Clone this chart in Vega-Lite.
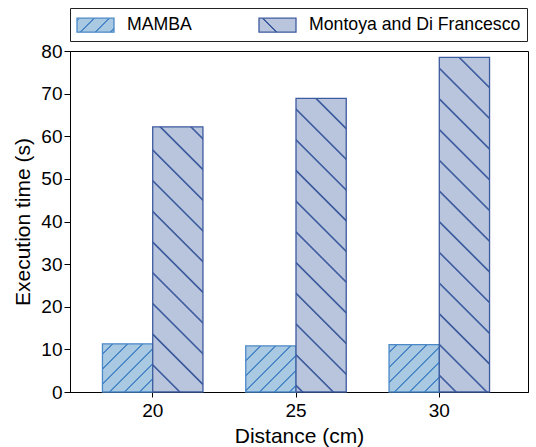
{
  "$schema": "https://vega.github.io/schema/vega-lite/v6.json",
  "width": 458,
  "height": 341,
  "autosize": {"type": "none"},
  "padding": {"left": 70, "top": 51, "right": 8, "bottom": 55},
  "background": "white",
  "config": {
    "font": "Liberation Sans",
    "view": {"stroke": "black", "strokeWidth": 1},
    "axis": {
      "domainColor": "black", "tickColor": "black", "labelColor": "black", "titleColor": "black",
      "labelFont": "Liberation Sans", "titleFont": "Liberation Sans",
      "labelFontSize": 19, "titleFontSize": 21, "titleFontWeight": "normal",
      "grid": false, "tickSize": 5, "domainWidth": 1, "tickWidth": 1
    },
    "legend": {
      "orient": "none", "legendX": 0, "legendY": -43, "direction": "horizontal",
      "symbolType": "M-1,-0.7H2.7V0.7H-1Z", "symbolSize": 400, "symbolStrokeWidth": 1.3,
      "labelFontSize": 17.7, "labelFont": "Liberation Sans", "labelColor": "black", "labelLimit": 400,
      "labelOffset": 29, "columnPadding": 64, "padding": 6,
      "strokeColor": "#222222", "fillColor": "white", "cornerRadius": 0
    }
  },
  "data": {
    "values": [
      {"distance": 20, "series": "MAMBA", "time": 11.3},
      {"distance": 25, "series": "MAMBA", "time": 10.8},
      {"distance": 30, "series": "MAMBA", "time": 11.1},
      {"distance": 20, "series": "Montoya and Di Francesco", "time": 62.2},
      {"distance": 25, "series": "Montoya and Di Francesco", "time": 68.9},
      {"distance": 30, "series": "Montoya and Di Francesco", "time": 78.5}
    ]
  },
  "mark": {"type": "bar", "strokeWidth": 1.3},
  "encoding": {
    "x": {
      "field": "distance", "type": "ordinal", "title": "Distance (cm)",
      "scale": {"paddingInner": 0.29867, "paddingOuter": 0.24738, "align": 0.4577, "round": false},
      "axis": {"labelAngle": 0, "labelPadding": 4, "titlePadding": 5, "tickSize": 5}
    },
    "xOffset": {
      "field": "series", "type": "nominal",
      "scale": {"paddingInner": 0, "paddingOuter": 0}
    },
    "y": {
      "field": "time", "type": "quantitative", "title": "Execution time (s)",
      "scale": {"domain": [0, 80], "nice": false},
      "axis": {"values": [0, 10, 20, 30, 40, 50, 60, 70, 80], "tickSize": 6, "labelPadding": 2, "titlePadding": 7}
    },
    "stroke": {
      "field": "series", "type": "nominal", "title": null,
      "scale": {"domain": ["MAMBA", "Montoya and Di Francesco"], "range": ["#4a88c8", "#3d5b9f"]}
    },
    "fill": {
      "field": "series", "type": "nominal", "title": null,
      "scale": {"domain": ["MAMBA", "Montoya and Di Francesco"], "range": [
        {"expr": "{gradient: 'linear', x1: 0, y1: 0, x2: 1.2057, y2: 0.4562, stops: [{offset: 0, color: '#a9c9e3'}, {offset: 0.0354, color: '#a9c9e3'}, {offset: 0.0354, color: '#4a88c8'}, {offset: 0.0706, color: '#4a88c8'}, {offset: 0.0706, color: '#a9c9e3'}, {offset: 0.3294, color: '#a9c9e3'}, {offset: 0.3294, color: '#4a88c8'}, {offset: 0.3646, color: '#4a88c8'}, {offset: 0.3646, color: '#a9c9e3'}, {offset: 0.6234, color: '#a9c9e3'}, {offset: 0.6234, color: '#4a88c8'}, {offset: 0.6586, color: '#4a88c8'}, {offset: 0.6586, color: '#a9c9e3'}, {offset: 0.9174, color: '#a9c9e3'}, {offset: 0.9174, color: '#4a88c8'}, {offset: 0.9526, color: '#4a88c8'}, {offset: 0.9526, color: '#a9c9e3'}, {offset: 1, color: '#a9c9e3'}]}"},
        {"expr": "{gradient: 'linear', x1: 0, y1: 1, x2: 1.2057, y2: 0.5438, stops: [{offset: 0, color: '#b9c4dd'}, {offset: 0.3254, color: '#b9c4dd'}, {offset: 0.3254, color: '#3d5b9f'}, {offset: 0.3606, color: '#3d5b9f'}, {offset: 0.3606, color: '#b9c4dd'}, {offset: 1, color: '#b9c4dd'}]}"}
      ]},
      "condition": [
        {"test": "datum.distance === 20 && datum.series === 'MAMBA'", "value": {"gradient": "linear", "x1": 0, "y1": 0, "x2": 1.0207, "y2": 0.9784, "stops": [
          {"offset": 0, "color": "#a9c9e3"},
          {"offset": 0.0968, "color": "#a9c9e3"}, {"offset": 0.0968, "color": "#4a88c8"}, {"offset": 0.115, "color": "#4a88c8"}, {"offset": 0.115, "color": "#a9c9e3"},
          {"offset": 0.2492, "color": "#a9c9e3"}, {"offset": 0.2492, "color": "#4a88c8"}, {"offset": 0.2674, "color": "#4a88c8"}, {"offset": 0.2674, "color": "#a9c9e3"},
          {"offset": 0.4016, "color": "#a9c9e3"}, {"offset": 0.4016, "color": "#4a88c8"}, {"offset": 0.4198, "color": "#4a88c8"}, {"offset": 0.4198, "color": "#a9c9e3"},
          {"offset": 0.554, "color": "#a9c9e3"}, {"offset": 0.554, "color": "#4a88c8"}, {"offset": 0.5722, "color": "#4a88c8"}, {"offset": 0.5722, "color": "#a9c9e3"},
          {"offset": 0.7064, "color": "#a9c9e3"}, {"offset": 0.7064, "color": "#4a88c8"}, {"offset": 0.7246, "color": "#4a88c8"}, {"offset": 0.7246, "color": "#a9c9e3"},
          {"offset": 0.8588, "color": "#a9c9e3"}, {"offset": 0.8588, "color": "#4a88c8"}, {"offset": 0.877, "color": "#4a88c8"}, {"offset": 0.877, "color": "#a9c9e3"},
          {"offset": 1, "color": "#a9c9e3"}
        ]}},
        {"test": "datum.distance === 25 && datum.series === 'MAMBA'", "value": {"gradient": "linear", "x1": 0, "y1": 0, "x2": 1.0418, "y2": 0.9543, "stops": [
          {"offset": 0, "color": "#a9c9e3"},
          {"offset": 0.1463, "color": "#a9c9e3"}, {"offset": 0.1463, "color": "#4a88c8"}, {"offset": 0.1649, "color": "#4a88c8"}, {"offset": 0.1649, "color": "#a9c9e3"},
          {"offset": 0.3021, "color": "#a9c9e3"}, {"offset": 0.3021, "color": "#4a88c8"}, {"offset": 0.3207, "color": "#4a88c8"}, {"offset": 0.3207, "color": "#a9c9e3"},
          {"offset": 0.4579, "color": "#a9c9e3"}, {"offset": 0.4579, "color": "#4a88c8"}, {"offset": 0.4765, "color": "#4a88c8"}, {"offset": 0.4765, "color": "#a9c9e3"},
          {"offset": 0.6137, "color": "#a9c9e3"}, {"offset": 0.6137, "color": "#4a88c8"}, {"offset": 0.6323, "color": "#4a88c8"}, {"offset": 0.6323, "color": "#a9c9e3"},
          {"offset": 0.7695, "color": "#a9c9e3"}, {"offset": 0.7695, "color": "#4a88c8"}, {"offset": 0.7881, "color": "#4a88c8"}, {"offset": 0.7881, "color": "#a9c9e3"},
          {"offset": 0.9253, "color": "#a9c9e3"}, {"offset": 0.9253, "color": "#4a88c8"}, {"offset": 0.9439, "color": "#4a88c8"}, {"offset": 0.9439, "color": "#a9c9e3"},
          {"offset": 1, "color": "#a9c9e3"}
        ]}},
        {"test": "datum.distance === 30 && datum.series === 'MAMBA'", "value": {"gradient": "linear", "x1": 0, "y1": 0, "x2": 1.0292, "y2": 0.969, "stops": [
          {"offset": 0, "color": "#a9c9e3"},
          {"offset": 0.0724, "color": "#a9c9e3"}, {"offset": 0.0724, "color": "#4a88c8"}, {"offset": 0.0908, "color": "#4a88c8"}, {"offset": 0.0908, "color": "#a9c9e3"},
          {"offset": 0.2261, "color": "#a9c9e3"}, {"offset": 0.2261, "color": "#4a88c8"}, {"offset": 0.2445, "color": "#4a88c8"}, {"offset": 0.2445, "color": "#a9c9e3"},
          {"offset": 0.3799, "color": "#a9c9e3"}, {"offset": 0.3799, "color": "#4a88c8"}, {"offset": 0.3983, "color": "#4a88c8"}, {"offset": 0.3983, "color": "#a9c9e3"},
          {"offset": 0.5336, "color": "#a9c9e3"}, {"offset": 0.5336, "color": "#4a88c8"}, {"offset": 0.552, "color": "#4a88c8"}, {"offset": 0.552, "color": "#a9c9e3"},
          {"offset": 0.6874, "color": "#a9c9e3"}, {"offset": 0.6874, "color": "#4a88c8"}, {"offset": 0.7058, "color": "#4a88c8"}, {"offset": 0.7058, "color": "#a9c9e3"},
          {"offset": 0.8411, "color": "#a9c9e3"}, {"offset": 0.8411, "color": "#4a88c8"}, {"offset": 0.8595, "color": "#4a88c8"}, {"offset": 0.8595, "color": "#a9c9e3"},
          {"offset": 1, "color": "#a9c9e3"}
        ]}},
        {"test": "datum.distance === 20 && datum.series !== 'MAMBA'", "value": {"gradient": "linear", "x1": 0, "y1": 1, "x2": 0.21763, "y2": -0.14828, "stops": [
          {"offset": 0, "color": "#b9c4dd"},
          {"offset": 0.0802, "color": "#b9c4dd"}, {"offset": 0.0843, "color": "#3d5b9f"}, {"offset": 0.0875, "color": "#3d5b9f"}, {"offset": 0.0916, "color": "#b9c4dd"},
          {"offset": 0.1776, "color": "#b9c4dd"}, {"offset": 0.1817, "color": "#3d5b9f"}, {"offset": 0.1849, "color": "#3d5b9f"}, {"offset": 0.189, "color": "#b9c4dd"},
          {"offset": 0.2749, "color": "#b9c4dd"}, {"offset": 0.279, "color": "#3d5b9f"}, {"offset": 0.2822, "color": "#3d5b9f"}, {"offset": 0.2863, "color": "#b9c4dd"},
          {"offset": 0.3723, "color": "#b9c4dd"}, {"offset": 0.3764, "color": "#3d5b9f"}, {"offset": 0.3796, "color": "#3d5b9f"}, {"offset": 0.3837, "color": "#b9c4dd"},
          {"offset": 0.4696, "color": "#b9c4dd"}, {"offset": 0.4737, "color": "#3d5b9f"}, {"offset": 0.4769, "color": "#3d5b9f"}, {"offset": 0.481, "color": "#b9c4dd"},
          {"offset": 0.5669, "color": "#b9c4dd"}, {"offset": 0.571, "color": "#3d5b9f"}, {"offset": 0.5742, "color": "#3d5b9f"}, {"offset": 0.5783, "color": "#b9c4dd"},
          {"offset": 0.6643, "color": "#b9c4dd"}, {"offset": 0.6684, "color": "#3d5b9f"}, {"offset": 0.6716, "color": "#3d5b9f"}, {"offset": 0.6757, "color": "#b9c4dd"},
          {"offset": 0.7616, "color": "#b9c4dd"}, {"offset": 0.7657, "color": "#3d5b9f"}, {"offset": 0.7689, "color": "#3d5b9f"}, {"offset": 0.773, "color": "#b9c4dd"},
          {"offset": 0.859, "color": "#b9c4dd"}, {"offset": 0.8631, "color": "#3d5b9f"}, {"offset": 0.8663, "color": "#3d5b9f"}, {"offset": 0.8704, "color": "#b9c4dd"},
          {"offset": 0.9563, "color": "#b9c4dd"}, {"offset": 0.9604, "color": "#3d5b9f"}, {"offset": 0.9636, "color": "#3d5b9f"}, {"offset": 0.9677, "color": "#b9c4dd"},
          {"offset": 1, "color": "#b9c4dd"}
        ]}},
        {"test": "datum.distance === 25 && datum.series !== 'MAMBA'", "value": {"gradient": "linear", "x1": 0, "y1": 1, "x2": 0.19467, "y2": -0.13777, "stops": [
          {"offset": 0, "color": "#b9c4dd"},
          {"offset": 0.014, "color": "#b9c4dd"}, {"offset": 0.0177, "color": "#3d5b9f"}, {"offset": 0.0207, "color": "#3d5b9f"}, {"offset": 0.0244, "color": "#b9c4dd"},
          {"offset": 0.1032, "color": "#b9c4dd"}, {"offset": 0.1069, "color": "#3d5b9f"}, {"offset": 0.1099, "color": "#3d5b9f"}, {"offset": 0.1136, "color": "#b9c4dd"},
          {"offset": 0.1925, "color": "#b9c4dd"}, {"offset": 0.1962, "color": "#3d5b9f"}, {"offset": 0.1992, "color": "#3d5b9f"}, {"offset": 0.2029, "color": "#b9c4dd"},
          {"offset": 0.2818, "color": "#b9c4dd"}, {"offset": 0.2855, "color": "#3d5b9f"}, {"offset": 0.2885, "color": "#3d5b9f"}, {"offset": 0.2922, "color": "#b9c4dd"},
          {"offset": 0.371, "color": "#b9c4dd"}, {"offset": 0.3747, "color": "#3d5b9f"}, {"offset": 0.3777, "color": "#3d5b9f"}, {"offset": 0.3814, "color": "#b9c4dd"},
          {"offset": 0.4603, "color": "#b9c4dd"}, {"offset": 0.464, "color": "#3d5b9f"}, {"offset": 0.467, "color": "#3d5b9f"}, {"offset": 0.4707, "color": "#b9c4dd"},
          {"offset": 0.5495, "color": "#b9c4dd"}, {"offset": 0.5532, "color": "#3d5b9f"}, {"offset": 0.5562, "color": "#3d5b9f"}, {"offset": 0.5599, "color": "#b9c4dd"},
          {"offset": 0.6388, "color": "#b9c4dd"}, {"offset": 0.6425, "color": "#3d5b9f"}, {"offset": 0.6455, "color": "#3d5b9f"}, {"offset": 0.6492, "color": "#b9c4dd"},
          {"offset": 0.7281, "color": "#b9c4dd"}, {"offset": 0.7318, "color": "#3d5b9f"}, {"offset": 0.7348, "color": "#3d5b9f"}, {"offset": 0.7385, "color": "#b9c4dd"},
          {"offset": 0.8173, "color": "#b9c4dd"}, {"offset": 0.821, "color": "#3d5b9f"}, {"offset": 0.824, "color": "#3d5b9f"}, {"offset": 0.8277, "color": "#b9c4dd"},
          {"offset": 0.9066, "color": "#b9c4dd"}, {"offset": 0.9103, "color": "#3d5b9f"}, {"offset": 0.9133, "color": "#3d5b9f"}, {"offset": 0.917, "color": "#b9c4dd"},
          {"offset": 1, "color": "#b9c4dd"}
        ]}},
        {"test": "datum.distance === 30 && datum.series !== 'MAMBA'", "value": {"gradient": "linear", "x1": 0, "y1": 1, "x2": 0.16892, "y2": -0.12483, "stops": [
          {"offset": 0, "color": "#b9c4dd"},
          {"offset": 0.039, "color": "#b9c4dd"}, {"offset": 0.0424, "color": "#3d5b9f"}, {"offset": 0.045, "color": "#3d5b9f"}, {"offset": 0.0484, "color": "#b9c4dd"},
          {"offset": 0.1187, "color": "#b9c4dd"}, {"offset": 0.1221, "color": "#3d5b9f"}, {"offset": 0.1247, "color": "#3d5b9f"}, {"offset": 0.1281, "color": "#b9c4dd"},
          {"offset": 0.1985, "color": "#b9c4dd"}, {"offset": 0.2019, "color": "#3d5b9f"}, {"offset": 0.2045, "color": "#3d5b9f"}, {"offset": 0.2079, "color": "#b9c4dd"},
          {"offset": 0.2783, "color": "#b9c4dd"}, {"offset": 0.2817, "color": "#3d5b9f"}, {"offset": 0.2843, "color": "#3d5b9f"}, {"offset": 0.2877, "color": "#b9c4dd"},
          {"offset": 0.358, "color": "#b9c4dd"}, {"offset": 0.3614, "color": "#3d5b9f"}, {"offset": 0.364, "color": "#3d5b9f"}, {"offset": 0.3674, "color": "#b9c4dd"},
          {"offset": 0.4378, "color": "#b9c4dd"}, {"offset": 0.4412, "color": "#3d5b9f"}, {"offset": 0.4438, "color": "#3d5b9f"}, {"offset": 0.4472, "color": "#b9c4dd"},
          {"offset": 0.5176, "color": "#b9c4dd"}, {"offset": 0.521, "color": "#3d5b9f"}, {"offset": 0.5236, "color": "#3d5b9f"}, {"offset": 0.527, "color": "#b9c4dd"},
          {"offset": 0.5973, "color": "#b9c4dd"}, {"offset": 0.6007, "color": "#3d5b9f"}, {"offset": 0.6033, "color": "#3d5b9f"}, {"offset": 0.6067, "color": "#b9c4dd"},
          {"offset": 0.6771, "color": "#b9c4dd"}, {"offset": 0.6805, "color": "#3d5b9f"}, {"offset": 0.6831, "color": "#3d5b9f"}, {"offset": 0.6865, "color": "#b9c4dd"},
          {"offset": 0.7569, "color": "#b9c4dd"}, {"offset": 0.7603, "color": "#3d5b9f"}, {"offset": 0.7629, "color": "#3d5b9f"}, {"offset": 0.7663, "color": "#b9c4dd"},
          {"offset": 0.8366, "color": "#b9c4dd"}, {"offset": 0.84, "color": "#3d5b9f"}, {"offset": 0.8426, "color": "#3d5b9f"}, {"offset": 0.846, "color": "#b9c4dd"},
          {"offset": 0.9164, "color": "#b9c4dd"}, {"offset": 0.9198, "color": "#3d5b9f"}, {"offset": 0.9224, "color": "#3d5b9f"}, {"offset": 0.9258, "color": "#b9c4dd"},
          {"offset": 1, "color": "#b9c4dd"}
        ]}}
      ]
    }
  }
}
